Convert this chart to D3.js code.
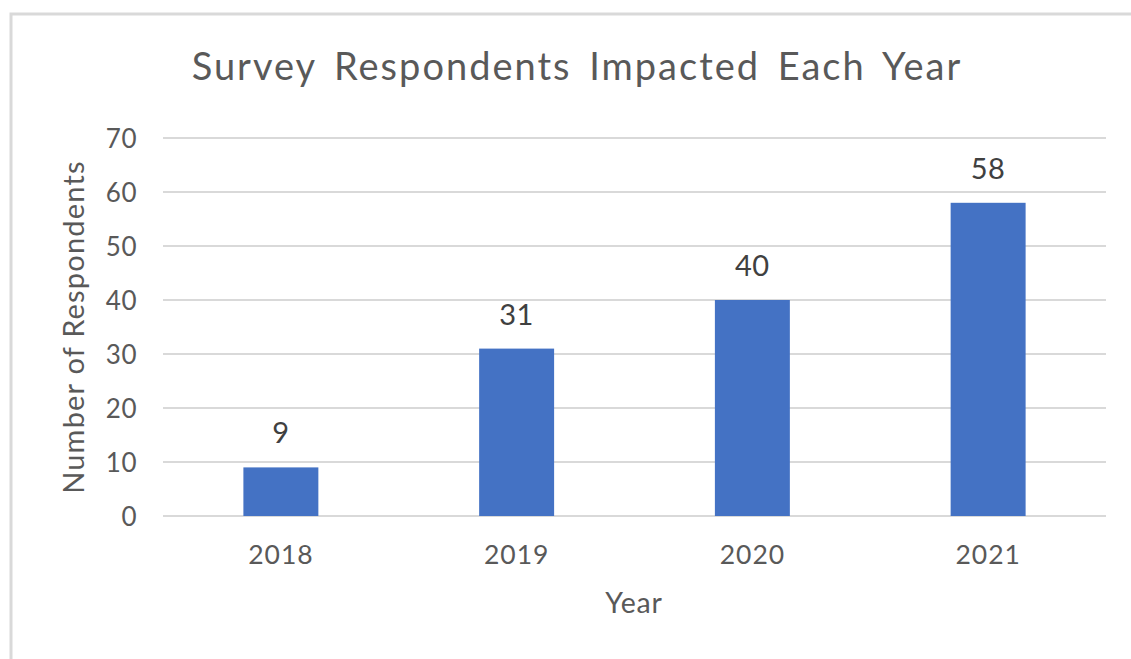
<!DOCTYPE html>
<html>
<head>
<meta charset="utf-8">
<script src="https://cdn.jsdelivr.net/npm/d3@7"></script>
<style>
  html, body { margin: 0; padding: 0; background: #fff; }
  svg { display: block; }
  text { font-family: Lato, "Open Sans", sans-serif; }
</style>
</head>
<body>
<svg id="chart" width="1131" height="659"></svg>
<script>
// Survey data
const years = ["2018", "2019", "2020", "2021"];
const respondents = [9, 31, 40, 58];
const yTicks = [0, 10, 20, 30, 40, 50, 60, 70];

const chartTitle = "Survey Respondents Impacted Each Year";
const xTitle = "Year";
const yTitle = "Number of Respondents";

const svg = d3.select("#chart");
const W = 1131, H = 659;

// chart frame (light border running off the right and bottom edges)
svg.append("rect")
  .attr("x", 11).attr("y", 14)
  .attr("width", W + 20).attr("height", H + 20)
  .attr("fill", "#fff")
  .attr("stroke", "#d9d9d9")
  .attr("stroke-width", 3);

const plot = { left: 163, right: 1106, top: 138, bottom: 516 };

const x = d3.scaleBand()
  .domain(years)
  .range([plot.left, plot.right])
  .paddingInner(0.682)
  .paddingOuter(0.341);

const y = d3.scaleLinear()
  .domain([0, 70])
  .range([plot.bottom, plot.top]);

// gridlines
svg.append("g")
  .selectAll("line")
  .data(yTicks)
  .join("line")
  .attr("x1", plot.left).attr("x2", plot.right)
  .attr("y1", d => y(d)).attr("y2", d => y(d))
  .attr("stroke", "#d9d9d9")
  .attr("stroke-width", 2);

// y axis labels
const yAxis = d3.axisLeft(y).tickValues(yTicks).tickSize(0).tickPadding(0);
const gy = svg.append("g")
  .attr("transform", `translate(${plot.left - 26},0)`)
  .call(yAxis);
gy.select(".domain").remove();
gy.selectAll("text")
  .attr("font-family", "Lato, sans-serif")
  .attr("font-size", 26)
  .attr("letter-spacing", 0.5)
  .attr("fill", "#595959")
  .attr("dy", "0.36em");

// x axis labels
const xAxis = d3.axisBottom(x).tickSize(0).tickPadding(0);
const gx = svg.append("g")
  .attr("transform", `translate(0,${plot.bottom + 29})`)
  .call(xAxis);
gx.select(".domain").remove();
gx.selectAll("text")
  .attr("font-family", "Lato, sans-serif")
  .attr("font-size", 26.5)
  .attr("letter-spacing", 1)
  .attr("fill", "#595959")
  .attr("dy", "0.72em");

// bars
svg.append("g")
  .selectAll("rect")
  .data(respondents)
  .join("rect")
  .attr("x", (d, i) => x(years[i]))
  .attr("y", d => y(d))
  .attr("width", x.bandwidth())
  .attr("height", d => y(0) - y(d))
  .attr("fill", "#4472c4");

// value labels
svg.append("g")
  .selectAll("text")
  .data(respondents)
  .join("text")
  .attr("x", (d, i) => x(years[i]) + x.bandwidth() / 2)
  .attr("y", d => y(d) - 24)
  .attr("text-anchor", "middle")
  .attr("font-size", 29)
  .attr("letter-spacing", 0.5)
  .attr("fill", "#404040")
  .text(d => d);

// title
svg.append("text")
  .attr("x", 577).attr("y", 80)
  .attr("text-anchor", "middle")
  .attr("font-size", 38)
  .attr("letter-spacing", 2)
  .attr("word-spacing", 6)
  .attr("fill", "#595959")
  .text(chartTitle);

// axis titles
svg.append("text")
  .attr("x", 634).attr("y", 613)
  .attr("text-anchor", "middle")
  .attr("font-size", 28.5)
  .attr("letter-spacing", 0.8)
  .attr("fill", "#595959")
  .text(xTitle);

svg.append("text")
  .attr("transform", `translate(84,327) rotate(-90)`)
  .attr("text-anchor", "middle")
  .attr("font-size", 29)
  .attr("letter-spacing", 1.2)
  .attr("fill", "#595959")
  .text(yTitle);
</script>
</body>
</html>
